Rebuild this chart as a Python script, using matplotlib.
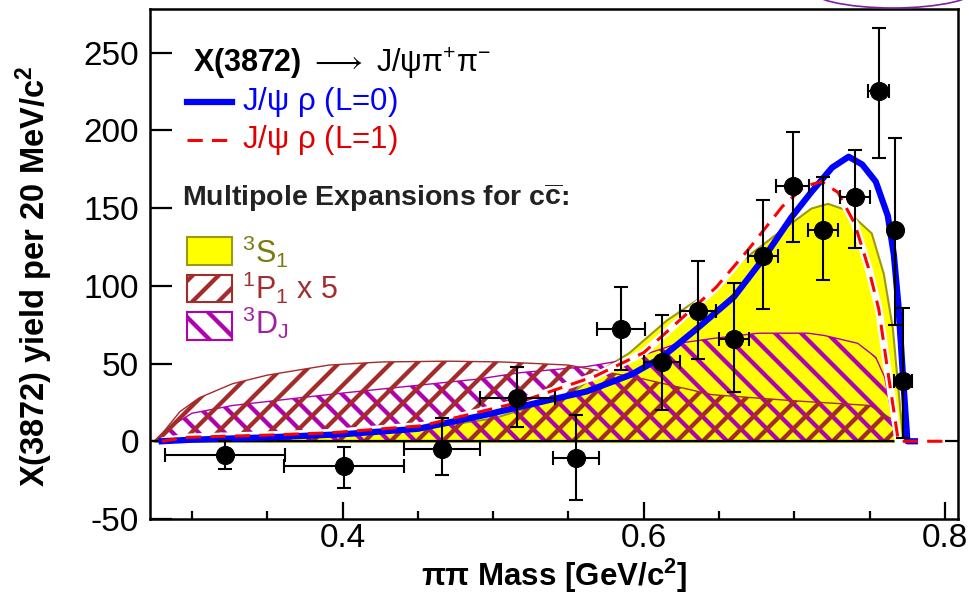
import matplotlib
matplotlib.use("Agg")
import matplotlib.pyplot as plt
from matplotlib.patches import Rectangle, Ellipse
from matplotlib.ticker import MultipleLocator

# 78 dpi pour avoir des hachures plus serrées ; toutes les tailles sont
# écrites comme pour 100 dpi puis multipliées par K
DPI = 78
K = 100 / DPI

plt.rcParams['font.family'] = ['Liberation Sans', 'DejaVu Sans']
plt.rcParams['mathtext.fontset'] = 'custom'
plt.rcParams['mathtext.rm'] = 'Liberation Sans'
plt.rcParams['mathtext.it'] = 'Liberation Sans:italic'
plt.rcParams['mathtext.bf'] = 'Liberation Sans:bold'
plt.rcParams['axes.unicode_minus'] = False
plt.rcParams['hatch.linewidth'] = 3.1 * K

# mesures (centre de bin, demi-largeur, rendement, erreurs basse / haute)
mass = [0.322, 0.401, 0.466, 0.516, 0.555, 0.585, 0.612, 0.636, 0.660, 0.679,
        0.699, 0.719, 0.740, 0.756, 0.767, 0.772]
mass_err = [0.040, 0.040, 0.025, 0.025, 0.015, 0.016, 0.012, 0.012, 0.010, 0.010,
            0.011, 0.010, 0.010, 0.007, 0.003, 0.006]
yld = [-9, -16, -5, 28, -11, 72, 51, 84, 66, 119, 164, 136, 157, 225, 136, 39]
yld_lo = [9, 14, 17, 19, 27, 26, 31, 31, 34, 34, 36, 32, 33, 43, 61, 37]
yld_hi = [9, 12, 20, 20, 28, 27, 30, 32, 36, 36, 35, 34, 30, 41, 59, 47]

# J/psi rho, onde S (L=0)
l0_x = [0.280, 0.300, 0.350, 0.400, 0.450, 0.495, 0.517, 0.544, 0.562, 0.592,
        0.612, 0.636, 0.660, 0.679, 0.698, 0.711, 0.725, 0.736, 0.745, 0.754,
        0.762, 0.766, 0.769, 0.772, 0.775, 0.780]
l0_y = [0, 1, 2.5, 4.5, 8, 17, 22, 28, 32, 43,
        54, 73, 93, 117, 144, 160, 176, 183, 178, 167,
        145, 120, 88, 43, 0, 0]

# J/psi rho, onde P (L=1)
l1_x = [0.280, 0.297, 0.352, 0.393, 0.453, 0.517, 0.568, 0.600, 0.648, 0.670,
        0.692, 0.707, 0.718, 0.729, 0.740, 0.749, 0.756, 0.762, 0.767, 0.769, 0.800]
l1_y = [0, 2.5, 4, 5.5, 10, 25, 42, 57, 99, 124,
        151, 164, 167, 160, 140, 112, 85, 45, 13, 0, 0]

# développements multipolaires
s1_x = [0.275, 0.300, 0.350, 0.400, 0.450, 0.500, 0.550, 0.575, 0.590, 0.615,
        0.641, 0.663, 0.690, 0.711, 0.722, 0.734, 0.742, 0.751, 0.759, 0.765,
        0.769, 0.772]
s1_y = [0, 1.5, 3, 5, 8, 15, 30, 48, 57, 78,
        95, 115, 135, 150, 153, 149, 142, 134, 108, 73,
        31, 0]

p1_x = [0.275, 0.282, 0.292, 0.305, 0.327, 0.350, 0.372, 0.391, 0.426, 0.470,
        0.506, 0.550, 0.600, 0.645, 0.700, 0.750, 0.765, 0.772]
p1_y = [0, 7, 19, 28, 37, 42.5, 46, 49, 51, 51.5,
        51, 49, 40, 30, 26, 23, 14, 0]

dj_x = [0.275, 0.285, 0.300, 0.327, 0.372, 0.400, 0.450, 0.490, 0.517, 0.562,
        0.592, 0.623, 0.645, 0.676, 0.709, 0.720, 0.742, 0.754, 0.760, 0.764, 0.770]
dj_y = [0, 9, 18, 23, 28, 31, 36, 40, 44, 48,
        53, 63, 66, 69.5, 69.5, 68, 63, 54, 41, 20, 0]

yellow = '#ffff00'
olive = '#9a9a10'
brown = '#a52a2a'
magenta = '#b000b0'

fig = plt.figure(figsize=(969 / DPI, 599 / DPI), dpi=DPI)
ax = fig.add_axes([150/969, 80/599, 808/969, 510/599])

ax.fill_between(s1_x, 0, s1_y, facecolor=yellow, edgecolor=olive, lw=1.5*K, zorder=1)
ax.fill_between(dj_x, 0, dj_y, facecolor='none', edgecolor=magenta, hatch='\\', lw=1*K, zorder=2)
ax.fill_between(p1_x, 0, p1_y, facecolor='none', edgecolor=brown, hatch='/', lw=1*K, zorder=3)
ax.axhline(0, color='black', lw=1.6*K, zorder=4)

ax.plot(l1_x, l1_y, color='white', lw=5.5*K, solid_capstyle='butt', zorder=5)
ax.plot(l0_x, l0_y, color='#0000ff', lw=4.5*K, zorder=6)
ax.plot(l1_x, l1_y, color='#ff0000', lw=2.2*K, dashes=(5, 3), zorder=7)

ax.errorbar(mass, yld, xerr=mass_err, yerr=[yld_lo, yld_hi], fmt='o', color='black',
            ms=13*K, elinewidth=1.5*K, capsize=5*K, capthick=1.5*K, zorder=8)

ax.set_xlim(0.2722, 0.8086)
ax.set_ylim(-50, 278)
ax.xaxis.set_major_locator(MultipleLocator(0.2))
ax.xaxis.set_minor_locator(MultipleLocator(0.05))
ax.yaxis.set_major_locator(MultipleLocator(50))
ax.tick_params(axis='both', which='both', direction='in', top=False, right=False,
               labelsize=24*K, width=1.6*K)
ax.tick_params(axis='y', which='major', length=16*K, pad=8*K)
ax.tick_params(axis='x', which='major', length=12*K, pad=3*K)
ax.tick_params(axis='x', which='minor', length=6*K)
ax.xaxis.set_major_formatter(plt.FuncFormatter(lambda v, p: f'{v:.1f}'))
for s in ax.spines.values():
    s.set_linewidth(1.8*K)

ax.set_ylabel(r'X(3872) yield per 20 MeV/c$^{\mathbf{2}}$', fontsize=23.5*K, fontweight='bold')
ax.yaxis.set_label_coords(-0.118, 0.475)
ax.set_xlabel(r'$\mathbf{\pi\pi}$ Mass [GeV/c$^{\mathbf{2}}$]', fontsize=22.5*K, fontweight='bold')
ax.xaxis.set_label_coords(0.5, -0.073)

# légende dessinée à la main
tr = ax.transAxes
ax.text(0.053, 0.893, r'$\mathbf{X(3872)}\ \longrightarrow\ \mathrm{J/\psi\pi^{+}\pi^{-}}$',
        transform=tr, fontsize=22*K, va='center', ha='left')
ax.plot([0.0458, 0.1015], [0.8176, 0.8176], color='#0000ff', lw=4.5*K, transform=tr)
ax.plot([0.0458, 0.1015], [0.743, 0.743], color='#ff0000', lw=2.2*K, dashes=(5, 3), transform=tr)
ax.text(0.1139, 0.8176, r'J/$\mathrm{\psi}$ $\mathrm{\rho}$ (L=0)', color='#0000ff',
        transform=tr, fontsize=22.5*K, va='center')
ax.text(0.1139, 0.743, r'J/$\mathrm{\psi}$ $\mathrm{\rho}$ (L=1)', color='#e00000',
        transform=tr, fontsize=22.5*K, va='center')
ax.text(0.0396, 0.629, r'Multipole Expansions for $\mathbf{c\overline{c}}$:', transform=tr,
        fontsize=20.5*K, fontweight='bold', va='center', color='#222222')

ax.add_patch(Rectangle((0.0458, 0.498), 0.0557, 0.055, transform=tr,
                       facecolor=yellow, edgecolor=olive, lw=1.5*K))
ax.add_patch(Rectangle((0.0458, 0.4255), 0.0557, 0.053, transform=tr,
                       facecolor='white', edgecolor=brown, hatch='/', lw=1.5*K))
ax.add_patch(Rectangle((0.0458, 0.351), 0.0557, 0.055, transform=tr,
                       facecolor='white', edgecolor=magenta, hatch='\\', lw=1.5*K))
ax.text(0.1139, 0.502, r'$^{3}$S$_{1}$', color='#7a7a10', transform=tr, fontsize=22*K)
ax.text(0.1139, 0.431, r'$^{1}$P$_{1}$ x 5', color='#a03030', transform=tr, fontsize=22*K)
ax.text(0.1139, 0.362, r'$^{3}$D$_{\mathrm{J}}$', color='#a020a0', transform=tr, fontsize=22*K)

fig.add_artist(Ellipse((893/969, 1 + 12/599), 170/969, 40/599, transform=fig.transFigure,
                       fill=False, edgecolor='#8020a0', lw=1.2*K))

fig.savefig('out.png', dpi=DPI)
